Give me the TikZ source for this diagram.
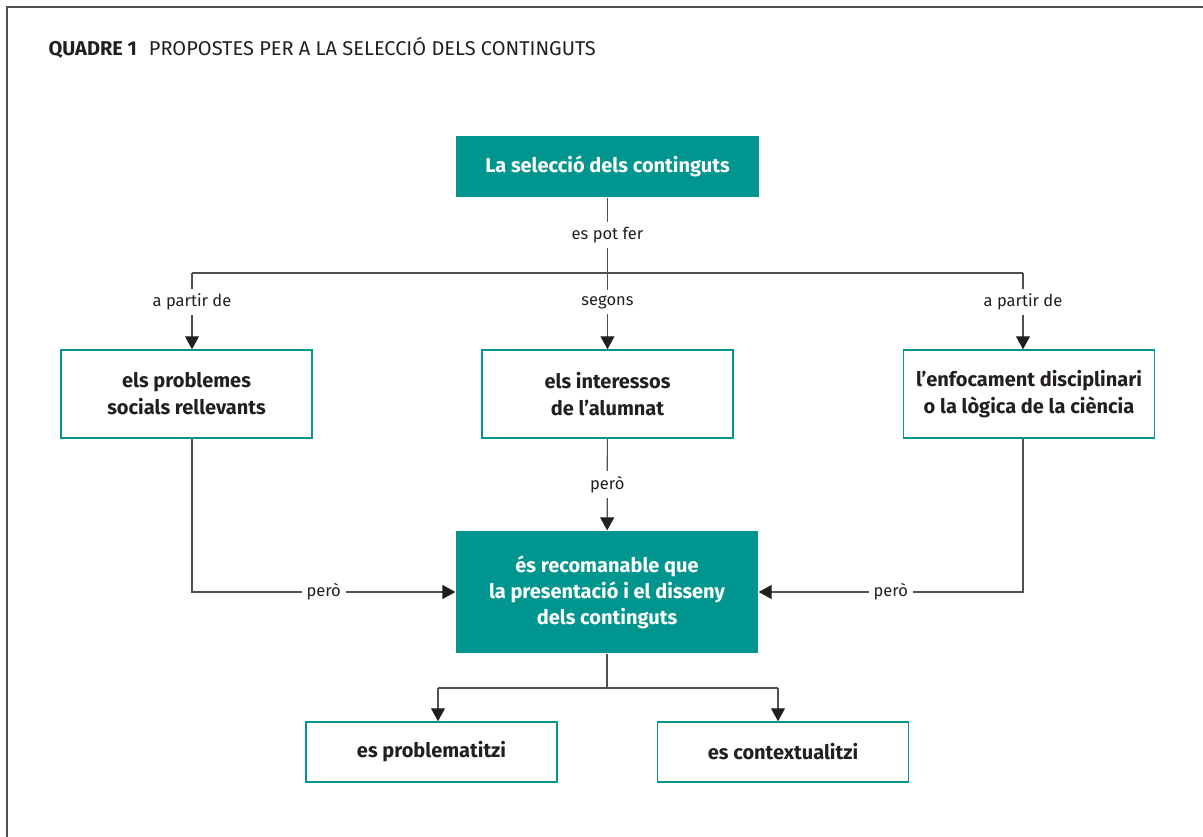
\documentclass[tikz,border=0pt]{standalone}
\usepackage{fontspec}
\setmainfont{Fira Sans}
\usetikzlibrary{arrows.meta,positioning}
\definecolor{quadreteal}{RGB}{0,150,143}
\definecolor{quadreline}{RGB}{80,80,80}
\definecolor{quadretext}{RGB}{35,31,32}

\begin{document}
\begin{tikzpicture}[x=1pt,y=-1pt,>={Triangle[length=13pt,width=14pt,color=quadretext]},line width=1.2pt,draw=quadreline]
  \tikzstyle{filled box}=[fill=quadreteal,draw=none,text=white,font=\fontsize{20}{26}\selectfont\bfseries,align=center,inner sep=0pt]
  \tikzstyle{outline box}=[fill=white,draw=quadreteal,line width=1.5pt,text=quadretext,font=\fontsize{20}{27}\selectfont\bfseries,align=center,inner sep=0pt,minimum width=251pt]
  \tikzstyle{lbl}=[fill=white,text=quadretext,font=\fontsize{16.5}{20}\selectfont,inner sep=5pt]
  \tikzstyle{link}=[quadreline,line width=1.2pt]

  \useasboundingbox (0,0) rectangle (1203,837);
  \draw[quadreline,line width=1.6pt] (7,837) -- (7,7) -- (1203,7);
  \node[anchor=base west,text=quadretext,font=\fontsize{20}{22}\selectfont,inner sep=0pt] (title) at (48,56)
    {\textbf{QUADRE 1}\hspace{0.6em}PROPOSTES PER A LA SELECCIÓ DELS CONTINGUTS};

  \node[filled box,minimum width=303pt,minimum height=61pt] (sel) at (607.5,166.5) {La selecció dels continguts};

  \node[outline box,minimum height=88pt] (prob)  at (186.5,394) {els problemes\\socials rellevants};
  \node[outline box,minimum height=88pt] (inter) at (607.5,394) {els interessos\\de l’alumnat};
  \node[outline box,minimum height=88pt] (enfoc) at (1029,394)  {l’enfocament disciplinari\\o la lògica de la ciència};

  \node[filled box,minimum width=302pt,minimum height=122pt] (rec) at (607,592)
    {és recomanable que\\la presentació i el disseny\\dels continguts};

  \node[outline box,minimum height=60pt] (probl) at (431.5,752) {es problematitzi};
  \node[outline box,minimum height=60pt] (cont)  at (783,752)   {es contextualitzi};

  \coordinate (split) at (607.5,273);
  \coordinate (left)  at (192,273);
  \coordinate (right) at (1023,273);
  \coordinate (join)  at (607,688);
  \coordinate (bl)    at (438,688);
  \coordinate (br)    at (778,688);

  \draw[link] (sel) -- node[lbl] {es pot fer} (split);
  \draw[link] (left) -- (right);
  \draw[link,->] (left) -- node[lbl,pos=0.38] {a partir de} (left |- prob.north);
  \draw[link,->] (split) -- node[lbl,pos=0.38] {segons} (inter);
  \draw[link,->] (right) -- node[lbl,pos=0.38] {a partir de} (right |- enfoc.north);

  \draw[link,->] (inter) -- node[lbl] {però} (rec);
  \draw[link,->] (left |- prob.south) |- node[lbl,pos=0.75] {però} (rec);
  \draw[link,->] (right |- enfoc.south) |- node[lbl,pos=0.75] {però} (rec);

  \draw[link] (rec) -- (join);
  \draw[link] (bl) -- (br);
  \draw[link,->] (bl) -- (bl |- probl.north);
  \draw[link,->] (br) -- (br |- cont.north);
\end{tikzpicture}
\end{document}
